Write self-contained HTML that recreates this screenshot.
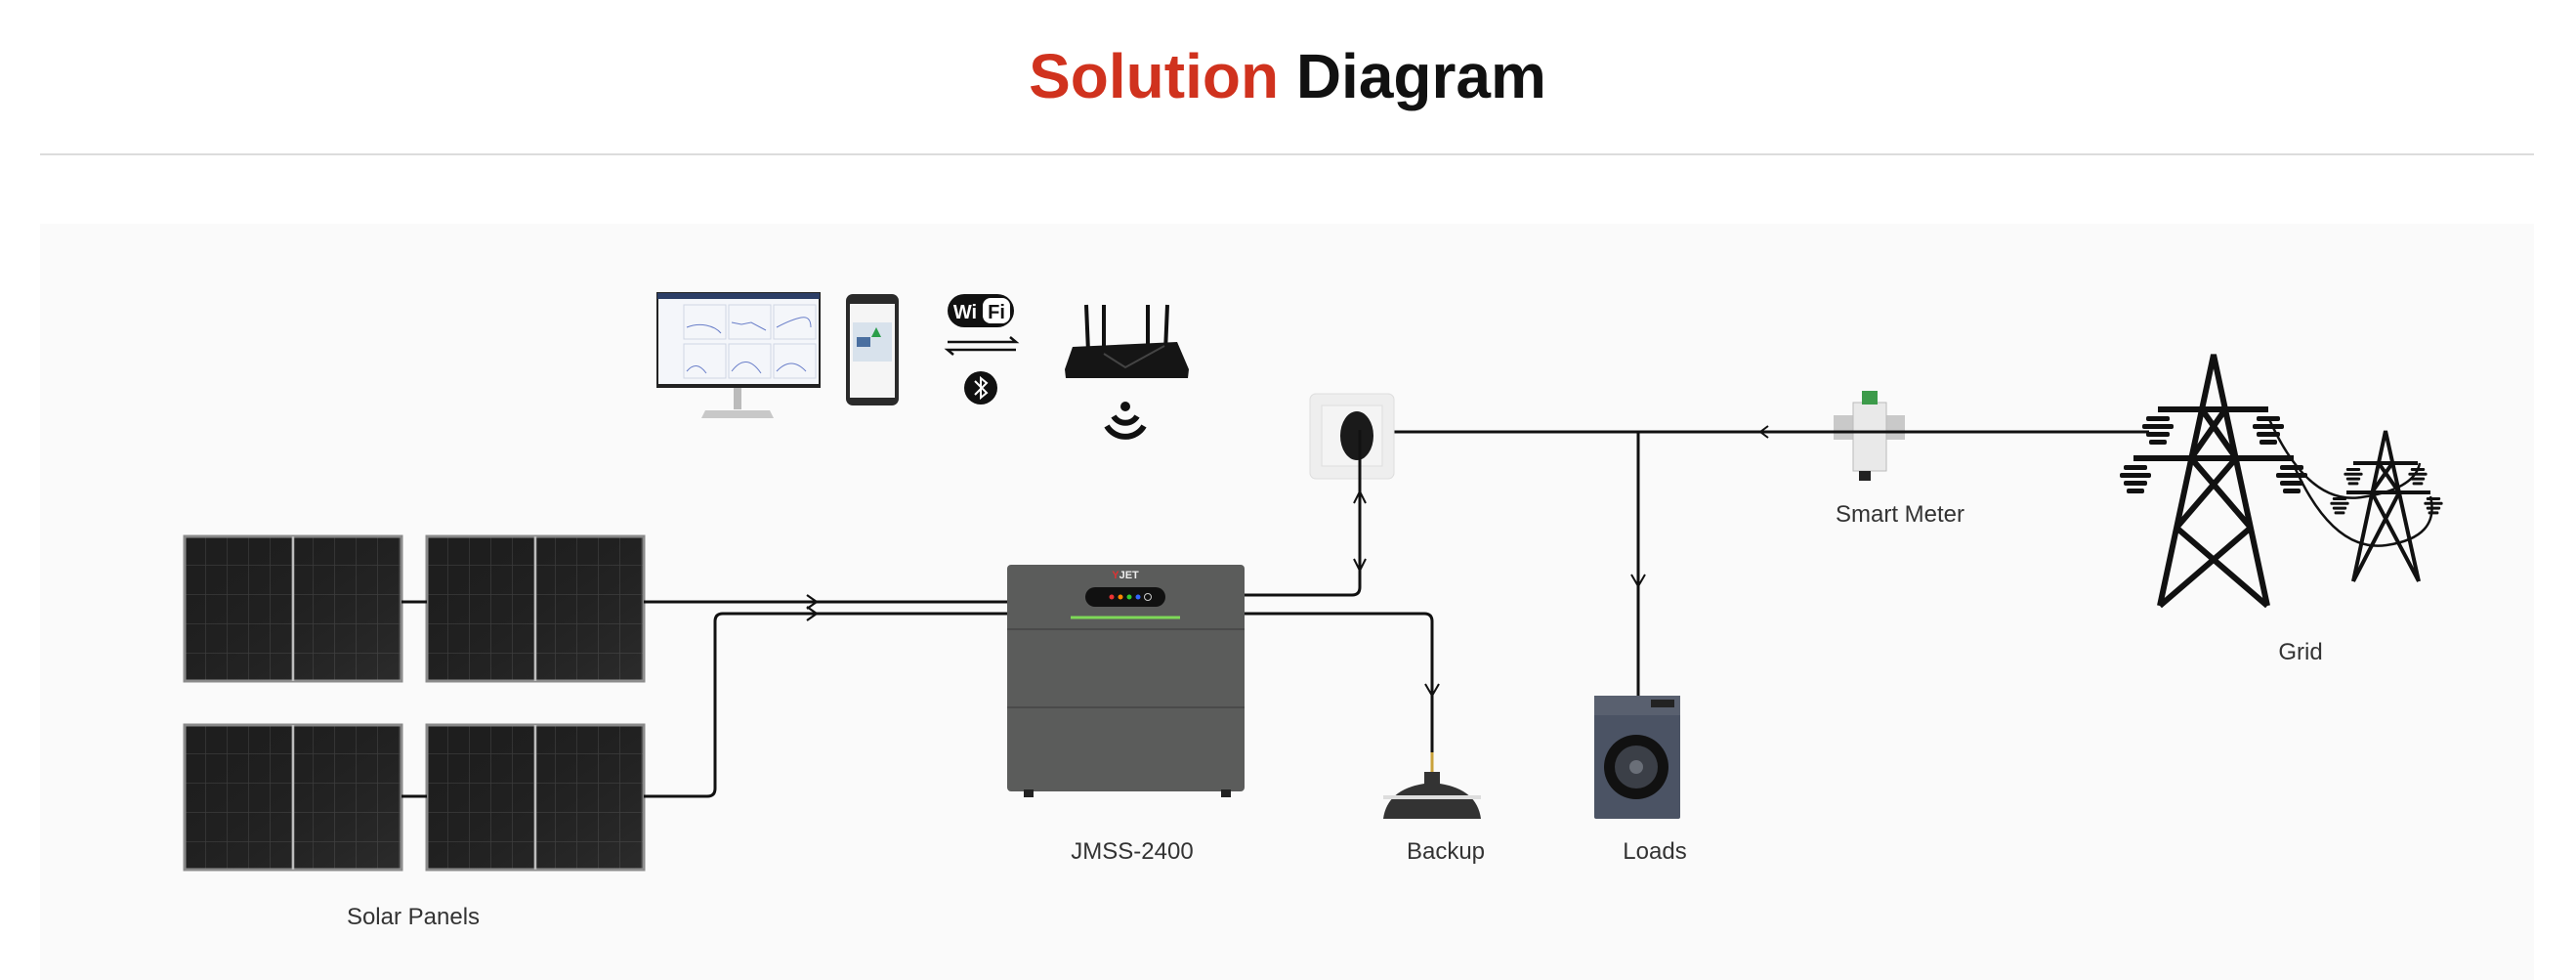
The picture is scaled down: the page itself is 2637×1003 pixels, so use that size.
<!DOCTYPE html>
<html><head><meta charset="utf-8"><style>
html,body{margin:0;padding:0;background:#fff;}
svg{display:block;}
text{font-family:"Liberation Sans","DejaVu Sans",sans-serif;}
</style></head><body>
<svg width="2637" height="1003" viewBox="0 0 2637 1003" xmlns="http://www.w3.org/2000/svg">
<defs>
<pattern id="cells" x="0" y="0" width="22" height="30" patternUnits="userSpaceOnUse">
<rect width="22" height="30" fill="#1e1e1e"/>
<path d="M22 0V30M0 30H22" stroke="#3a3a3a" stroke-width="1.5"/>
</pattern>
<linearGradient id="pg" x1="0" y1="0" x2="1" y2="1">
<stop offset="0" stop-color="#000" stop-opacity="0"/><stop offset="1" stop-color="#fff" stop-opacity="0.06"/>
</linearGradient>
<g id="panel">
<rect x="0" y="0" width="222" height="148" fill="url(#cells)" stroke="#8a8a8a" stroke-width="3"/>
<rect x="0" y="0" width="222" height="148" fill="url(#pg)"/>
<line x1="111" y1="0" x2="111" y2="148" stroke="#bdbdbd" stroke-width="2.5"/>
</g>
<g id="ins"><rect x="-12" y="0" width="24" height="5" rx="2"/><rect x="-16" y="8" width="32" height="5" rx="2"/><rect x="-12" y="16" width="24" height="5" rx="2"/><rect x="-9" y="24" width="18" height="5" rx="2"/></g>
</defs>
<rect width="2637" height="1003" fill="#fff"/>
<text x="1318" y="100" text-anchor="middle" font-size="64" font-weight="bold" fill="#111"><tspan fill="#d0321e">Solution</tspan> Diagram</text>
<line x1="41" y1="158" x2="2594" y2="158" stroke="#dcdcdc" stroke-width="2"/>
<rect x="41" y="229" width="2553" height="774" fill="#fafafa"/>

<use href="#panel" x="189" y="549"/>
<use href="#panel" x="437" y="549"/>
<use href="#panel" x="189" y="742"/>
<use href="#panel" x="437" y="742"/>
<line x1="411" y1="616" x2="437" y2="616" stroke="#111" stroke-width="3"/>
<line x1="411" y1="815" x2="437" y2="815" stroke="#111" stroke-width="3"/>

<g fill="none" stroke="#111" stroke-width="3">
<path d="M659 616H1031"/>
<path d="M659 815H724Q732 815 732 807V636Q732 628 740 628H1031"/>
<path d="M826 609l10 7-10 7M826 621l10 7-10 7" stroke-width="2.2"/>
<path d="M1274 609H1384Q1392 609 1392 601V489"/>
<path d="M1386 515l6-12 6 12M1386 572l6 12 6-12" stroke-width="2"/>
<path d="M1274 628H1458Q1466 628 1466 636V770"/>
<path d="M1459 700l7 12 7-12" stroke-width="2"/>
<path d="M1421 442H2200"/>
<path d="M1677 442V712"/>
<path d="M1670 588l7 12 7-12" stroke-width="2"/>
<path d="M1810 436l-8 6 8 6" stroke-width="2"/>
</g>

<rect x="1031" y="578" width="243" height="232" rx="4" fill="#5b5c5b"/>
<line x1="1031" y1="644" x2="1274" y2="644" stroke="#4a4a4a" stroke-width="2"/>
<line x1="1031" y1="724" x2="1274" y2="724" stroke="#4a4a4a" stroke-width="2"/>
<rect x="1048" y="808" width="10" height="8" fill="#222"/><rect x="1250" y="808" width="10" height="8" fill="#222"/>
<text x="1152" y="592" text-anchor="middle" font-size="11" font-weight="bold" fill="#eee"><tspan fill="#d33">Y</tspan>JET</text>
<rect x="1111" y="601" width="82" height="20" rx="10" fill="#111"/>
<circle cx="1138" cy="611" r="2.5" fill="#e33"/><circle cx="1147" cy="611" r="2.5" fill="#f80"/><circle cx="1156" cy="611" r="2.5" fill="#3c3"/><circle cx="1165" cy="611" r="2.5" fill="#36f"/><circle cx="1175" cy="611" r="3.5" fill="none" stroke="#ccc"/>
<line x1="1096" y1="632" x2="1208" y2="632" stroke="#7ed957" stroke-width="3"/>

<rect x="673" y="300" width="166" height="96" fill="#f4f6fa" stroke="#222" stroke-width="2"/>
<rect x="673" y="300" width="166" height="6" fill="#2c3e66"/>
<rect x="673" y="393" width="166" height="4" fill="#222"/>
<g stroke="#cfd6e4" fill="none" stroke-width="1">
<rect x="700" y="312" width="43" height="35"/><rect x="746" y="312" width="43" height="35"/><rect x="792" y="312" width="43" height="35"/>
<rect x="700" y="352" width="43" height="35"/><rect x="746" y="352" width="43" height="35"/><rect x="792" y="352" width="43" height="35"/>
</g>
<g stroke="#6a7fc9" fill="none" stroke-width="1"><path d="M703 335q10-4 20-2t15 8M749 330l10 2 10-2 15 8M795 335q15-8 25-10t10 10M703 380q10-12 20 2M749 380q15-20 30 2M795 380q15-16 30 0"/></g>
<rect x="751" y="397" width="8" height="22" fill="#bbb"/>
<path d="M722 420H788L792 428H718Z" fill="#c8c8c8"/>
<rect x="866" y="301" width="54" height="114" rx="7" fill="#2a2a2a"/>
<rect x="870" y="311" width="46" height="96" fill="#f5f5f5"/>
<rect x="873" y="330" width="40" height="40" fill="#d8e2ec"/>
<rect x="877" y="345" width="14" height="10" fill="#4a6fa0"/>
<path d="M897 335l5 10h-10z" fill="#2a9d4a"/>
<rect x="970" y="301" width="68" height="34" rx="17" fill="#111"/>
<rect x="1006" y="305" width="28" height="26" rx="8" fill="#fff"/>
<text x="988" y="326" text-anchor="middle" font-size="20" font-weight="bold" fill="#fff">Wi</text>
<text x="1020" y="326" text-anchor="middle" font-size="20" font-weight="bold" fill="#111">Fi</text>
<g stroke="#111" stroke-width="2.5" fill="none"><path d="M970 350H1040l-6-5M1040 358H970l6 5"/></g>
<ellipse cx="1004" cy="397" rx="17" ry="17" fill="#111"/>
<path d="M998 390l12 12-6 5v-20l6 5-12 12" stroke="#fff" stroke-width="2" fill="none"/>
<g stroke="#111" stroke-width="4"><line x1="1112" y1="312" x2="1114" y2="360"/><line x1="1130" y1="312" x2="1130" y2="360"/><line x1="1175" y1="312" x2="1175" y2="360"/><line x1="1195" y1="312" x2="1193" y2="360"/></g>
<path d="M1098 355L1205 350L1217 378L1216 387H1091L1090 378Z" fill="#151515"/>
<path d="M1130 362l22 14 40-22" stroke="#444" stroke-width="2" fill="none"/>
<circle cx="1152" cy="416" r="5" fill="#111"/>
<path d="M1140 426a14 14 0 0 0 24 0" stroke="#111" stroke-width="6" fill="none"/>
<path d="M1133 436a22 22 0 0 0 38 0" stroke="#111" stroke-width="6" fill="none"/>
<rect x="1341" y="403" width="86" height="87" rx="6" fill="#eeeeee" stroke="#ddd"/>
<rect x="1353" y="415" width="62" height="62" fill="#f4f4f4" stroke="#ddd"/>
<ellipse cx="1389" cy="446" rx="17" ry="25" fill="#1a1a1a"/>
<line x1="1392" y1="440" x2="1392" y2="492" stroke="#111" stroke-width="3"/>

<line x1="1466" y1="770" x2="1466" y2="790" stroke="#c9a23b" stroke-width="3"/>
<path d="M1458 790h16v12q38 6 42 36H1416q4-30 42-36z" fill="#333"/>
<rect x="1416" y="814" width="100" height="4" fill="#ddd"/>
<rect x="1632" y="712" width="88" height="126" rx="2" fill="#4b5364"/>
<rect x="1632" y="712" width="88" height="20" fill="#59606f"/>
<rect x="1690" y="716" width="24" height="8" fill="#222"/>
<circle cx="1675" cy="785" r="33" fill="#111"/>
<circle cx="1675" cy="785" r="22" fill="#3b3f47"/>
<circle cx="1675" cy="785" r="7" fill="#6a6f78"/>

<rect x="1877" y="425" width="73" height="25" fill="#c9c9c9"/>
<rect x="1897" y="412" width="34" height="70" fill="#e9e9e9" stroke="#bbb"/>
<rect x="1906" y="400" width="16" height="14" fill="#3c9b4a"/>
<rect x="1903" y="482" width="12" height="10" fill="#222"/>
<line x1="1850" y1="442" x2="2200" y2="442" stroke="#111" stroke-width="3"/>

<g stroke="#111" stroke-width="6" fill="none">
<path d="M2211 620L2266 363L2321 620"/>
<path d="M2209 419H2322M2184 469H2348"/>
<path d="M2254 419L2289 469M2278 419L2243 469M2243 469L2304 540M2289 469L2228 540M2228 540L2321 620M2304 540L2211 620"/>
</g>
<g stroke="#111" stroke-width="4" fill="none">
<path d="M2409 595L2442 441L2476 595"/>
<path d="M2409 474H2475M2402 504H2488"/>
<path d="M2435 474L2456 504M2449 474L2428 504M2428 504L2476 595M2456 504L2409 595"/>
</g>
<g stroke="#111" stroke-width="2.5" fill="none">
<path d="M2322 427q40 90 95 82t60-35M2348 476q40 90 95 82t45-50"/>
</g>
<g fill="#111">
<use href="#ins" x="2209" y="426"/><use href="#ins" x="2322" y="426"/>
<use href="#ins" x="2186" y="476"/><use href="#ins" x="2346" y="476"/>
<g transform="translate(2409,479) scale(.6)"><use href="#ins"/></g>
<g transform="translate(2475,479) scale(.6)"><use href="#ins"/></g>
<g transform="translate(2395,509) scale(.6)"><use href="#ins"/></g>
<g transform="translate(2491,509) scale(.6)"><use href="#ins"/></g>
</g>

<g font-size="24" fill="#333" text-anchor="middle">
<text x="423" y="946">Solar Panels</text>
<text x="1159" y="879">JMSS-2400</text>
<text x="1480" y="879">Backup</text>
<text x="1694" y="879">Loads</text>
<text x="1945" y="534">Smart Meter</text>
<text x="2355" y="675">Grid</text>
</g>
</svg>
</body></html>
